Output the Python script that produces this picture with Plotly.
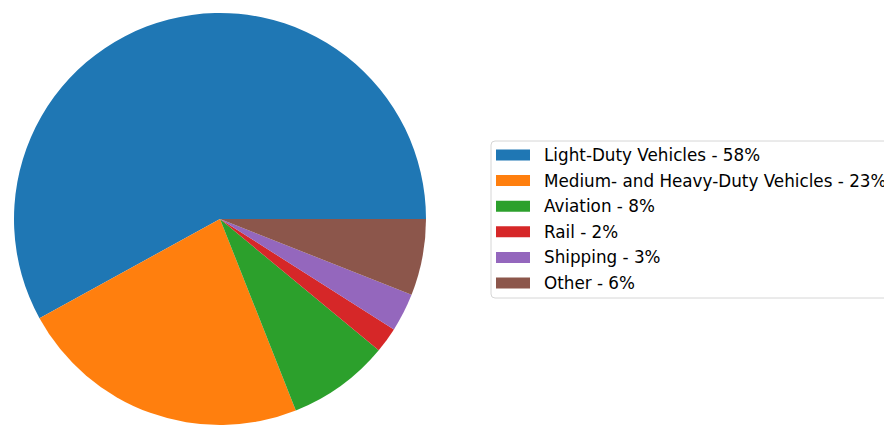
import plotly.graph_objects as go

# Transportation energy use by mode (percent share)
modes = ["Light-Duty Vehicles", "Medium- and Heavy-Duty Vehicles", "Aviation",
         "Rail", "Shipping", "Other"]
shares = [58, 23, 8, 2, 3, 6]
colors = ["#1f77b4", "#ff7f0e", "#2ca02c", "#d62728", "#9467bd", "#8c564b"]

legend_labels = [f"{m} - {s}%" for m, s in zip(modes, shares)]

W, H = 884, 425
cx, cy, r = 220, 219, 206  # pie centre (px from top-left) and radius


def px_x(x):
    return x / W


def px_y(y):
    return 1 - y / H


# Plotly measures rotation clockwise from 12 o'clock; with counterclockwise
# direction the first slice ends at the rotation angle, so shift it so the
# first wedge begins at 3 o'clock and the rest follow counterclockwise.
total = sum(shares)
rotation = 90 - 360 * shares[0] / total

fig = go.Figure(go.Pie(
    labels=legend_labels,
    values=shares,
    sort=False,
    direction="counterclockwise",
    rotation=rotation,
    marker=dict(colors=colors, line=dict(width=0)),
    textinfo="none",
    hoverinfo="label",
    showlegend=False,
    domain=dict(x=[px_x(cx - r), px_x(cx + r)],
                y=[px_y(cy + r), px_y(cy - r)]),
))

# Legend box (extends past the right edge of the figure)
box_l, box_t, box_r, box_b, rad = 491, 141, 1010, 298, 4
path = (
    f"M {px_x(box_l + rad)} {px_y(box_t)} L {px_x(box_r - rad)} {px_y(box_t)} "
    f"Q {px_x(box_r)} {px_y(box_t)} {px_x(box_r)} {px_y(box_t + rad)} "
    f"L {px_x(box_r)} {px_y(box_b - rad)} "
    f"Q {px_x(box_r)} {px_y(box_b)} {px_x(box_r - rad)} {px_y(box_b)} "
    f"L {px_x(box_l + rad)} {px_y(box_b)} "
    f"Q {px_x(box_l)} {px_y(box_b)} {px_x(box_l)} {px_y(box_b - rad)} "
    f"L {px_x(box_l)} {px_y(box_t + rad)} "
    f"Q {px_x(box_l)} {px_y(box_t)} {px_x(box_l + rad)} {px_y(box_t)} Z"
)
shapes = [dict(type="path", xref="paper", yref="paper", path=path,
               fillcolor="white", line=dict(color="#d6d6d6", width=1))]
annotations = []

row0, row_gap = 155, 25.6
for i, (lab, col) in enumerate(zip(legend_labels, colors)):
    yc = row0 + i * row_gap
    shapes.append(dict(type="rect", xref="paper", yref="paper",
                       x0=px_x(496), x1=px_x(530),
                       y0=px_y(yc + 5.5), y1=px_y(yc - 5.5),
                       fillcolor=col, line=dict(width=0)))
    annotations.append(dict(text=lab, xref="paper", yref="paper",
                            x=px_x(542), y=px_y(yc), xanchor="left",
                            yanchor="middle", showarrow=False,
                            font=dict(family="DejaVu Sans", size=16.8,
                                      color="black")))

fig.update_layout(
    width=W, height=H,
    margin=dict(l=0, r=0, t=0, b=0),
    paper_bgcolor="white",
    plot_bgcolor="white",
    font=dict(family="DejaVu Sans", size=16.8, color="black"),
    shapes=shapes,
    annotations=annotations,
)

fig.write_html("out.html")
